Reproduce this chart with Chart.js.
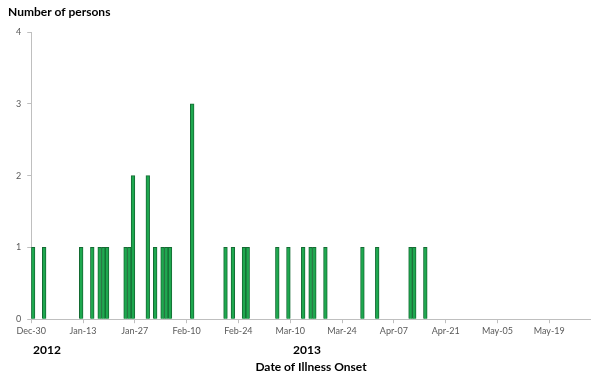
<!DOCTYPE html>
<html>
<head>
<meta charset="utf-8">
<script src="https://cdn.jsdelivr.net/npm/chart.js@4"></script>
<style>
  html, body { margin: 0; padding: 0; background: #fff; }
  #wrap { position: relative; width: 600px; height: 381px; }
</style>
</head>
<body>
<div id="wrap"><canvas id="chart" width="600" height="381"></canvas></div>
<script>
// Epi curve: persons by date of illness onset, Dec 30 2012 - May 29 2013

const startDate = '2012-12-30';
const endDate = '2013-05-29';

// onset dates with at least one case, and the count on that date
const onsetDates = [
  '2012-12-30', '2013-01-02', '2013-01-12', '2013-01-15', '2013-01-17',
  '2013-01-18', '2013-01-19', '2013-01-24', '2013-01-25', '2013-01-26',
  '2013-01-30', '2013-02-01', '2013-02-03', '2013-02-04', '2013-02-05',
  '2013-02-11', '2013-02-20', '2013-02-22', '2013-02-25', '2013-02-26',
  '2013-03-06', '2013-03-09', '2013-03-13', '2013-03-15', '2013-03-16',
  '2013-03-19', '2013-03-29', '2013-04-02', '2013-04-11', '2013-04-12',
  '2013-04-15'
];
const personCounts = [
  1, 1, 1, 1, 1,
  1, 1, 1, 1, 2,
  2, 1, 1, 1, 1,
  3, 1, 1, 1, 1,
  1, 1, 1, 1, 1,
  1, 1, 1, 1, 1,
  1
];

// every 14th day gets a label
const tickLabels = ['Dec-30', 'Jan-13', 'Jan-27', 'Feb-10', 'Feb-24', 'Mar-10',
  'Mar-24', 'Apr-07', 'Apr-21', 'May-05', 'May-19'];
const yearLabels = ['2012', '2013'];

// one category per day
const days = [];
for (let d = new Date(startDate + 'T00:00:00Z'); d <= new Date(endDate + 'T00:00:00Z'); d.setUTCDate(d.getUTCDate() + 1)) {
  days.push(d.toISOString().slice(0, 10));
}
const dailyCounts = days.map(day => {
  const i = onsetDates.indexOf(day);
  return i >= 0 ? personCounts[i] : 0;
});

const axisGray = '#bfbfbf';
const textGray = '#595959';

const extraText = {
  id: 'extraText',
  afterDraw(chart) {
    const ctx = chart.ctx;
    ctx.save();
    ctx.fillStyle = '#000';
    ctx.font = 'bold 12px Lato, "Open Sans", sans-serif';
    ctx.textBaseline = 'middle';
    ctx.textAlign = 'left';
    ctx.fillText('Number of persons', 8, 12);
    ctx.fillText(yearLabels[0], 33, 350);
    ctx.fillText(yearLabels[1], 293, 350);
    ctx.textAlign = 'center';
    ctx.fillText('Date of Illness Onset', 311, 367);
    ctx.restore();
  }
};

new Chart(document.getElementById('chart'), {
  type: 'bar',
  data: {
    labels: days,
    datasets: [{
      label: 'Number of persons',
      data: dailyCounts,
      backgroundColor: '#1ea84f',
      borderColor: '#146b33',
      borderWidth: 1,
      categoryPercentage: 1,
      barPercentage: 1
    }]
  },
  options: {
    responsive: false,
    animation: false,
    layout: { padding: { left: 10, right: 10, top: 32, bottom: 43 } },
    plugins: {
      legend: { display: false },
      tooltip: { enabled: false }
    },
    scales: {
      x: {
        offset: true,
        border: { color: axisGray, width: 1 },
        grid: {
          offset: true,
          drawOnChartArea: false,
          tickLength: 4,
          color: ctx => (ctx.index % 14 === 0 ? axisGray : 'rgba(0,0,0,0)')
        },
        ticks: {
          autoSkip: false,
          maxRotation: 0,
          padding: 2,
          color: textGray,
          font: { family: 'Lato, "Open Sans", sans-serif', size: 9 },
          labelOffset: -1.86,
          callback: (value, index) => (index % 14 === 0 ? tickLabels[index / 14] : '')
        }
      },
      y: {
        min: 0,
        max: 4,
        border: { color: axisGray, width: 1 },
        grid: { drawOnChartArea: false, tickLength: 4, color: axisGray },
        ticks: {
          stepSize: 1,
          padding: 6,
          color: textGray,
          font: { family: 'Lato, "Open Sans", sans-serif', size: 9 }
        }
      }
    }
  },
  plugins: [extraText]
});
</script>
</body>
</html>
